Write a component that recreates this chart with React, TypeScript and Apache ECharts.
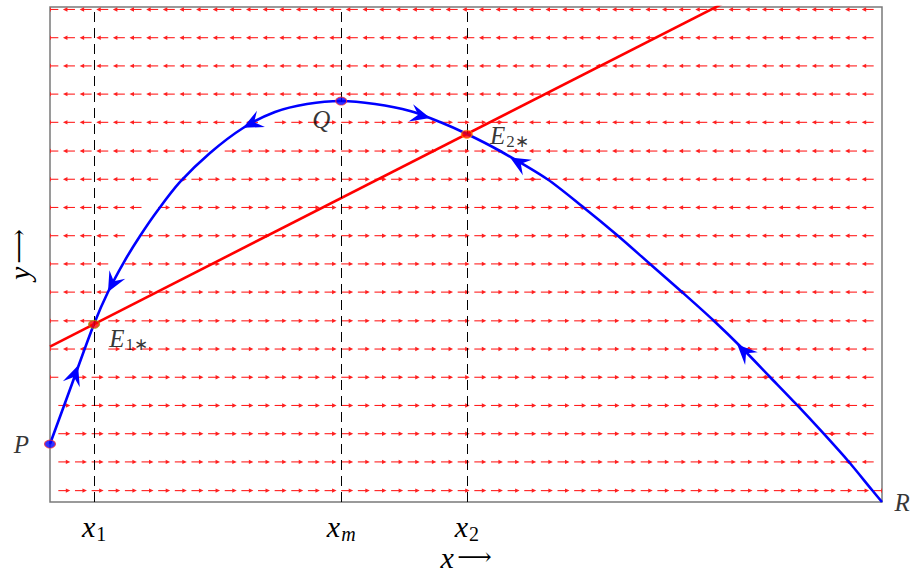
import React, { useEffect, useRef } from 'react';
import * as echarts from 'echarts';

// ---- data (axis units: x 0..100, y 0..100) ----
const xMarks = [5.3, 35, 50.1];
const xMarkSubs = ['1', 'm', '2'];

const nullclineX = [0, 100];
const nullclineY = [31.4, 117.1];

const trajX = [0, 2.64, 5.29, 6.97, 8.89, 10.82, 12.98, 15.63, 19.23, 23.2, 27.04, 30.89, 34.98, 39.06, 43.27, 46.88, 50.12, 54.09, 59.74, 64.06, 68.15, 72.12, 75.96, 79.69, 83.17, 86.54, 89.78, 92.91, 96.03, 98.8, 100];
const trajY = [11.72, 23.84, 35.96, 42.42, 48.48, 53.74, 58.99, 64.65, 70.51, 75.56, 78.79, 80.4, 81.01, 80.4, 78.99, 76.77, 74.34, 70.91, 65.25, 59.6, 53.94, 48.08, 42.42, 36.77, 31.11, 25.25, 19.6, 13.94, 8.08, 2.42, 0];

// direction arrowheads on trajectory: tip and a point behind it
const arrowTipX = [3.37, 6.97, 23.2, 45.7, 55.3, 82.6];
const arrowTipY = [27.6, 42.4, 75.6, 77.6, 69.6, 31.8];
const arrowFromX = [0, 8.89, 27.04, 42.0, 59.74, 86.54];
const arrowFromY = [11.72, 48.48, 78.79, 79.2, 65.25, 25.25];

// special points
const pointNames = ['P', 'Q', 'E1', 'E2', 'R'];
const pointX = [0, 35, 5.3, 50.1, 100];
const pointY = [11.7, 81.0, 35.9, 74.3, 0];

// direction field rows: y, and x-range where dx/dt > 0
const rowY = [99.5, 93.8, 88.1, 82.4, 76.7, 70.9, 65.2, 59.5, 53.8, 48.1, 42.4, 36.6, 30.9, 25.2, 19.5, 13.8, 8.1, 2.3];
const rightFrom = [-1, -1, -1, -1, 25.5, 19.8, 15.0, 12.6, 9.6, 7.5, 7.2, 7.0, 6.0, 3.0, 0, 0, 0, 0];
const rightTo = [-1, -1, -1, -1, 54.1, 55.6, 58.9, 63.1, 68.5, 72.1, 76.3, 80.0, 83.0, 86.3, 89.5, 93.1, 95.5, 100];
const fieldXMin = 1;
const fieldXMax = 99;
const fieldXStep = 2;

const serif = 'Liberation Serif';

export default function App() {
  const ref = useRef<HTMLDivElement>(null);
  useEffect(() => {
    if (!ref.current) return;
    const chart = echarts.init(ref.current, null, { renderer: 'svg' });

    const fieldData: number[][] = [];
    rowY.forEach((y, i) => {
      for (let x = fieldXMin; x <= fieldXMax + 1e-9; x += fieldXStep) {
        const dir = x >= rightFrom[i] && x <= rightTo[i] && rightTo[i] > 0 ? 1 : -1;
        fieldData.push([x, y, dir]);
      }
    });

    const trajData = trajX.map((x, i) => [x, trajY[i]]);
    const arrowData = arrowTipX.map((x, i) => [x, arrowTipY[i], arrowFromX[i], arrowFromY[i]]);

    const rich = {
      i: { fontFamily: serif, fontStyle: 'italic', fontSize: 30, color: '#000', verticalAlign: 'top', lineHeight: 28 },
      s: { fontFamily: serif, fontStyle: 'normal', fontSize: 20, color: '#000', verticalAlign: 'top', lineHeight: 16, padding: [13, 0, 0, 1] },
      si: { fontFamily: serif, fontStyle: 'italic', fontSize: 20, color: '#000', verticalAlign: 'top', lineHeight: 16, padding: [13, 0, 0, 1] },
      n: { fontFamily: serif, fontSize: 17, color: '#000', verticalAlign: 'top', lineHeight: 14, padding: [10, 0, 0, 1] },
      a: { fontFamily: 'DejaVu Serif', fontSize: 24, color: '#000', verticalAlign: 'top', lineHeight: 28, padding: [2, 0, 0, 0] },
    };
    const nameRich = {
      i: { fontFamily: serif, fontStyle: 'italic', fontSize: 30, color: '#000', lineHeight: 26 },
      a: { fontFamily: 'DejaVu Serif', fontSize: 24, color: '#000', lineHeight: 26 },
    };

    const pointStyles: Record<string, any> = {
      P: { color: '#0000ff', borderColor: '#ff3030', borderWidth: 1 },
      Q: { color: '#0000ff', borderColor: '#ff3030', borderWidth: 1 },
      E1: { color: '#ff0000', borderColor: '#9a9a00', borderWidth: 1 },
      E2: { color: '#ff0000', borderColor: '#ff9900', borderWidth: 1 },
      R: { color: 'rgba(0,0,0,0)', borderWidth: 0 },
    };
    const pointLabels: Record<string, any> = {
      P: { text: '{i|P}', position: 'left', offset: [-10, 0] },
      Q: { text: '{i|Q}', position: 'bottom', offset: [-20, -3] },
      E1: { text: '{i|E}{n|1∗}', position: 'right', offset: [4, 14] },
      E2: { text: '{i|E}{n|2∗}', position: 'right', offset: [12, 1] },
      R: { text: '{i|R}', position: 'right', offset: [2, 0] },
    };
    const pointsData = pointNames.map((n, i) => ({
      value: [pointX[i], pointY[i]],
      name: n,
      itemStyle: pointStyles[n],
      label: {
        show: true,
        color: '#000',
        formatter: pointLabels[n].text,
        position: pointLabels[n].position,
        offset: pointLabels[n].offset,
        rich: { ...rich, i: { ...rich.i, fontSize: 25, lineHeight: 24 } },
      },
    }));

    chart.setOption({
      animation: false,
      backgroundColor: '#fff',
      grid: {
        left: 50, top: 7, width: 832, height: 495,
        outerBoundsMode: 'none',
        containLabel: false,
        show: true, borderColor: '#7a7a7a', borderWidth: 1.5, backgroundColor: 'transparent',
      },
      xAxis: {
        type: 'value', min: 0, max: 100,
        axisLine: { show: false },
        axisTick: { show: false },
        splitLine: { show: false },
        axisLabel: {
          show: true,
          color: '#000',
          customValues: xMarks,
          margin: 9,
          formatter: (v: number) => {
            let best = 0;
            xMarks.forEach((m, i) => { if (Math.abs(m - v) < Math.abs(xMarks[best] - v)) best = i; });
            const sub = xMarkSubs[best];
            return '{i|x}{' + (/[0-9]/.test(sub) ? 's' : 'si') + '|' + sub + '}';
          },
          rich,
        },
        name: '{i|x} {a|⟶}',
        nameLocation: 'middle',
        nameGap: 42,
        nameMoveOverlap: false,
        nameTextStyle: { color: '#000', rich: nameRich },
      },
      yAxis: {
        type: 'value', min: 0, max: 100,
        axisLine: { show: false },
        axisTick: { show: false },
        splitLine: { show: false },
        axisLabel: { show: false },
        name: '{i|y} {a|⟶}',
        nameLocation: 'middle',
        nameRotate: 90,
        nameGap: 18,
        nameMoveOverlap: false,
        nameTextStyle: { color: '#000', rich: nameRich },
      },
      series: [
        {
          type: 'custom',
          name: 'field',
          clip: true,
          silent: true,
          z: 1,
          data: fieldData,
          renderItem: (params: any, api: any) => {
            const p = api.coord([api.value(0), api.value(1)]);
            const d = api.value(2);
            const L = 12, hl = 4.5, hw = 2.2;
            const x0 = p[0];
            const y = p[1];
            const x1 = x0 + d * L;
            return {
              type: 'group',
              children: [
                { type: 'line', shape: { x1: x0, y1: y, x2: x1 - d * hl * 0.6, y2: y }, style: { stroke: '#ff2020', lineWidth: 1.1 } },
                { type: 'polygon', shape: { points: [[x1, y], [x1 - d * hl, y - hw], [x1 - d * hl, y + hw]] }, style: { fill: '#ff2020' } },
              ],
            };
          },
        },
        {
          type: 'line',
          name: 'marks',
          data: [],
          z: 2,
          markLine: {
            silent: true,
            symbol: 'none',
            label: { show: false },
            lineStyle: { color: '#000', type: [10, 6], width: 1 },
            data: xMarks.map((m) => ({ xAxis: m })),
          },
        },
        {
          type: 'line',
          name: 'nullcline',
          data: nullclineX.map((x, i) => [x, nullclineY[i]]),
          showSymbol: false,
          symbol: 'none',
          clip: true,
          z: 3,
          lineStyle: { color: '#ff0000', width: 2.6 },
        },
        {
          type: 'line',
          name: 'trajectory',
          data: trajData,
          smooth: 0.3,
          showSymbol: false,
          symbol: 'none',
          clip: false,
          z: 4,
          lineStyle: { color: '#0000ff', width: 2.6 },
        },
        {
          type: 'custom',
          name: 'trajArrows',
          z: 5,
          clip: false,
          data: arrowData,
          renderItem: (params: any, api: any) => {
            const tip = api.coord([api.value(0), api.value(1)]);
            const from = api.coord([api.value(2), api.value(3)]);
            let dx = tip[0] - from[0];
            let dy = tip[1] - from[1];
            const len = Math.hypot(dx, dy) || 1;
            dx /= len; dy /= len;
            const nx = -dy, ny = dx;
            const L = 20, W = 9, N = 0.62 * L;
            return {
              type: 'polygon',
              shape: {
                points: [
                  [tip[0], tip[1]],
                  [tip[0] - L * dx + W * nx, tip[1] - L * dy + W * ny],
                  [tip[0] - N * dx, tip[1] - N * dy],
                  [tip[0] - L * dx - W * nx, tip[1] - L * dy - W * ny],
                ],
              },
              style: { fill: '#0000ff' },
            };
          },
        },
        {
          type: 'scatter',
          name: 'points',
          z: 6,
          symbol: 'circle',
          symbolSize: [11, 8],
          clip: false,
          data: pointsData,
        },
      ],
    });
    return () => chart.dispose();
  }, []);
  return <div ref={ref} style={{ position: 'fixed', left: 0, top: 0, width: 919, height: 572 }} />;
}
